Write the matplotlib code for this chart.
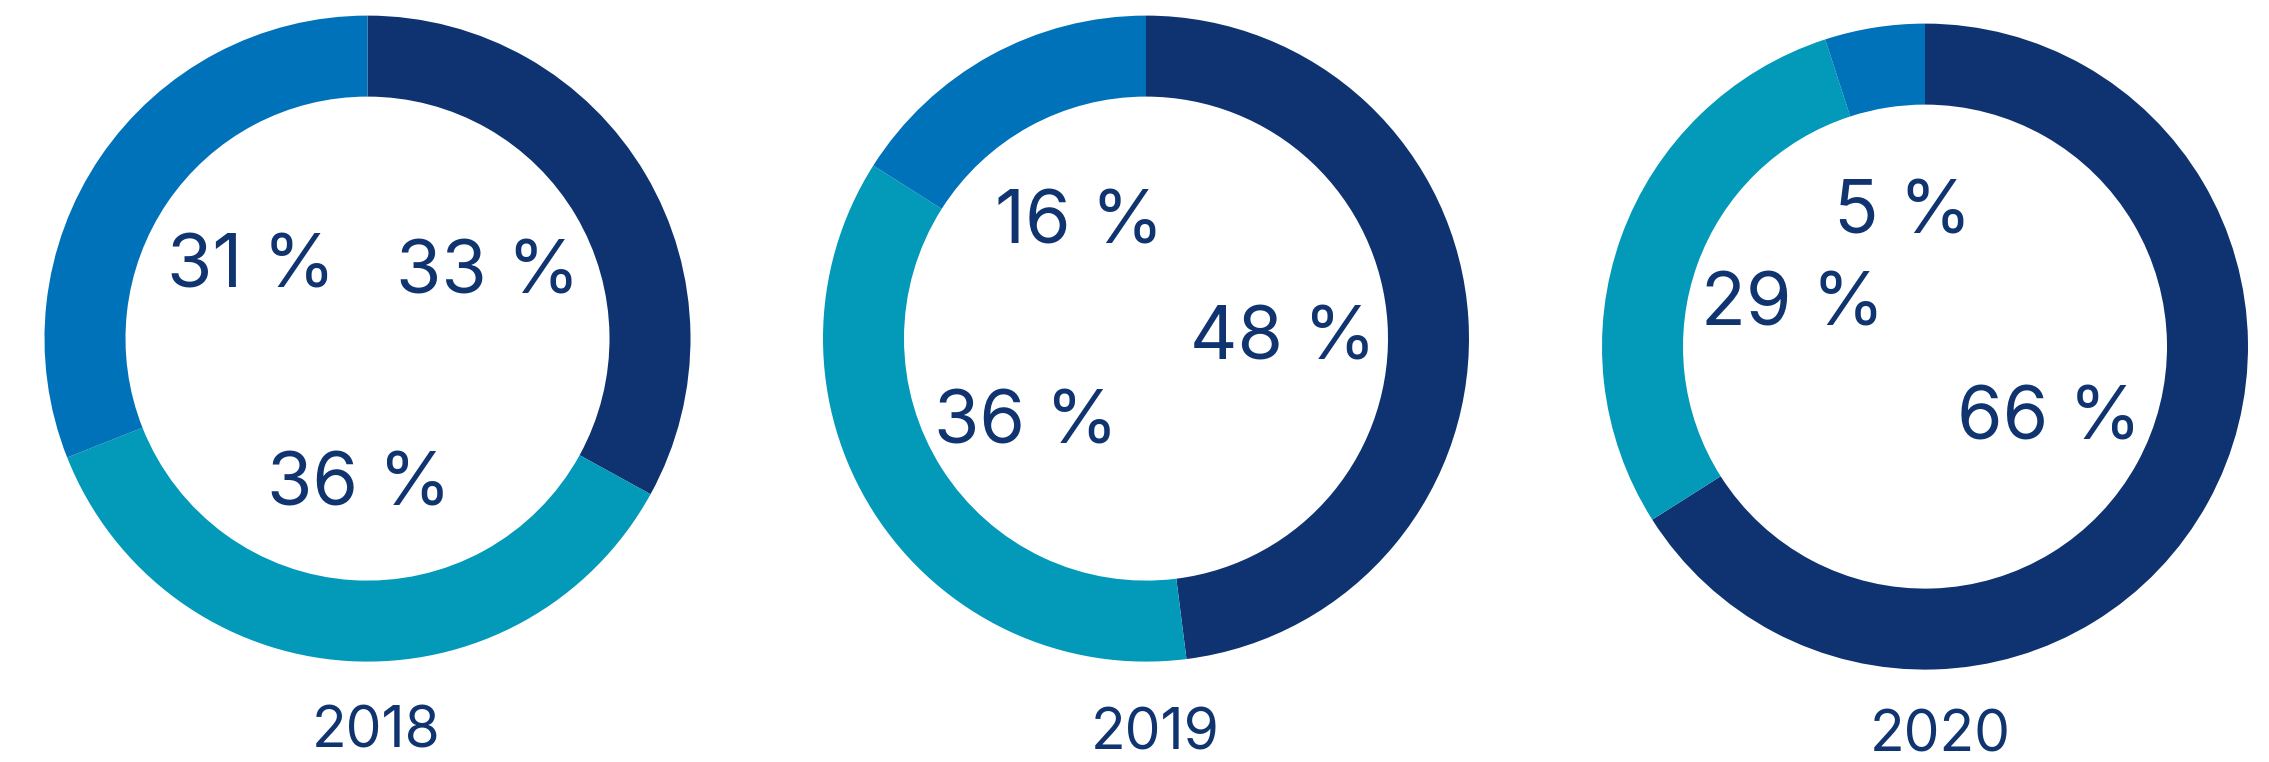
import matplotlib
matplotlib.use("Agg")
import matplotlib.pyplot as plt

years = ["2018", "2019", "2020"]
navy_share = [33, 48, 66]
teal_share = [36, 36, 29]
blue_share = [31, 16, 5]
label_text = [["33 %", "36 %", "31 %"], ["48 %", "36 %", "16 %"], ["66 %", "29 %", "5 %"]]

colors = ["#0e3370", "#0399b9", "#0072b9"]
text_color = "#10346f"

W, H = 2269, 762
fig = plt.figure(figsize=(W / 100, H / 100), dpi=100)
ax = fig.add_axes([0, 0, 1, 1])

centers = [(367.5, H - 338.6), (1146, H - 338.6), (1925, H - 346.6)]
R = 323
ring = 81
# (x center, baseline y in pixels from top)
label_pos = [
    [(488, 293), (359, 505), (251, 287)],
    [(1283, 359), (1026, 443), (1079, 243)],
    [(2049, 440), (1793, 326), (1903, 233)],
]
year_pos = [(376, 748), (1155, 750), (1940, 752)]

font = "Inter"
for i in range(3):
    vals = [navy_share[i], teal_share[i], blue_share[i]]
    ax.pie(vals, colors=colors, startangle=90, counterclock=False,
           center=centers[i], radius=R, frame=True,
           wedgeprops=dict(width=ring, linewidth=0))
    for j in range(3):
        x, y = label_pos[i][j]
        ax.text(x, H - y, label_text[i][j], ha="center", va="baseline",
                fontsize=53, color=text_color, family=font)
    x, y = year_pos[i]
    ax.text(x, H - y, years[i], ha="center", va="baseline",
            fontsize=41, color=text_color, family=font)

ax.set_xlim(0, W)
ax.set_ylim(0, H)
ax.set_aspect("equal")
ax.axis("off")
fig.savefig("out.png", dpi=100, facecolor="white")
